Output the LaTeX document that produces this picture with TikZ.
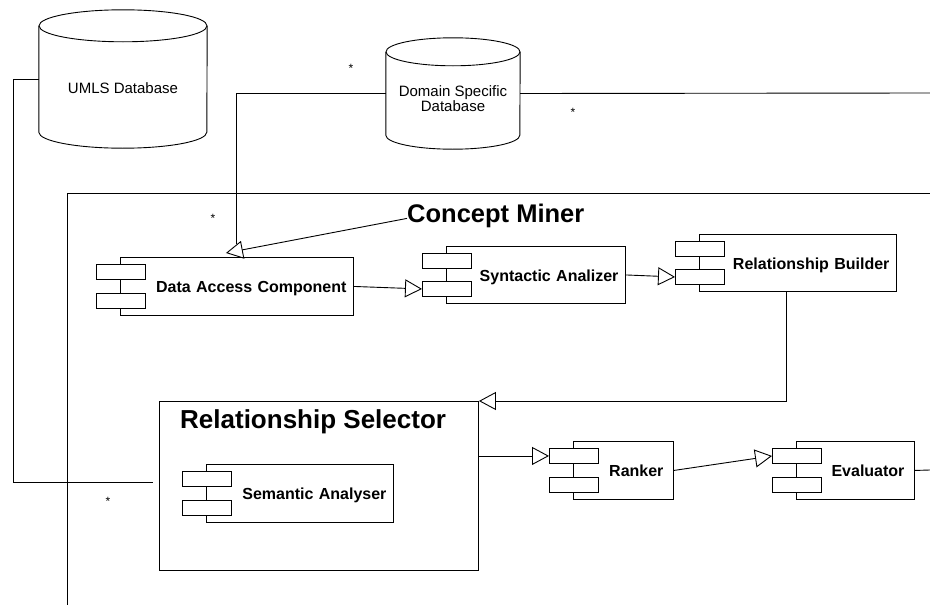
\documentclass[tikz,border=0pt]{standalone}
\usepackage{fontspec}
\setmainfont{Liberation Sans}
\usetikzlibrary{arrows.meta}
\tikzset{
  conn/.style={line width=0.9pt},
  gen/.style={conn, -{Triangle[open, length=17pt, width=18pt]}},
  comp/.style={draw, fill=white, line width=0.9pt, font=\bfseries\fontsize{16}{18}\selectfont,
    align=right, inner xsep=7pt, inner ysep=0pt, text height=15pt, text depth=2pt,
    minimum height=57pt, anchor=north west},
  icon/.style={draw, fill=white, line width=0.9pt, minimum width=49pt, minimum height=15pt,
    inner sep=0pt, anchor=north west, text height=0pt, text depth=0pt},
  dbbody/.style={inner sep=0pt},
  dbtext/.style={font=\fontsize{15}{15}\selectfont, inner sep=0pt, align=center},
  star/.style={font=\fontsize{12}{12}\selectfont, inner sep=0pt},
  title/.style={font=\bfseries\fontsize{25.5}{30}\selectfont, inner sep=0pt},
}
\newcommand\compicons[1]{%
  \node[icon] (#1-a) at ([xshift=-24pt,yshift=-7pt]#1.north west) {};
  \node[icon, anchor=south west] (#1-b) at ([xshift=-24pt,yshift=7pt]#1.south west) {};}
\begin{document}
\begin{tikzpicture}[x=1pt, y=-1pt]
\useasboundingbox[fill=white] (0,0) rectangle (930,605);

% outer Concept Miner frame (clipped at picture edge)
\coordinate (cmbl) at (67,605);
\coordinate (cmtl) at (67,193);
\coordinate (cmtr) at (930,193);
\draw[conn] (cmbl) -- (cmtl) -- (cmtr);

% UMLS database
\node[dbbody, minimum width=168pt, minimum height=106pt] (umls) at (123,79) {};
\draw[conn] (umls.north west) -- (umls.south west)
  arc[start angle=180, end angle=360, x radius=84pt, y radius=16pt] -- (umls.north east);
\draw[conn] (umls.north) ellipse [x radius=84pt, y radius=16pt];
\node[dbtext] (umls-t) at (123,88) {UMLS Database};

% Domain specific database
\node[dbbody, minimum width=134pt, minimum height=83pt] (dsd) at (453,93.5) {};
\draw[conn] (dsd.north west) -- (dsd.south west)
  arc[start angle=180, end angle=360, x radius=67pt, y radius=14pt] -- (dsd.north east);
\draw[conn] (dsd.north) ellipse [x radius=67pt, y radius=14pt];
\node[dbtext] (dsd-t) at (453,99) {Domain Specific\\Database};

% titles
\node[title, anchor=base west] (cm) at (407,222) {Concept Miner};

% components
\node[comp, text width=219pt, minimum height=58pt] (dac) at (120,257) {Data Access Component};
\compicons{dac}
\node[comp, text width=165pt] (sa) at (446,246) {Syntactic Analizer};
\compicons{sa}
\node[comp, text width=183pt] (rb) at (699,234) {Relationship Builder};
\compicons{rb}

% relationship selector
\node[draw, line width=0.9pt, inner sep=0pt, minimum width=319pt, minimum height=169pt,
  anchor=north west] (rs) at (159,401) {};
\node[title, anchor=west, font=\bfseries\fontsize{26}{30}\selectfont] (rs-t) at (180,422) {Relationship Selector};
\node[comp, text width=173pt, minimum height=58pt] (sem) at (206,464) {Semantic Analyser};
\compicons{sem}

\node[comp, text width=80pt, inner xsep=10pt, minimum height=58pt] (rk) at (573,441) {Ranker};
\compicons{rk}
\node[comp, text width=98pt, inner xsep=10pt, minimum height=58pt] (ev) at (796,441) {Evaluator};
\compicons{ev}

% connectors
\coordinate (uend) at (153,482);
\draw[conn] (umls.west) -| (13,482) -- (uend);

\coordinate (dsdown) at (236,244);
\draw[conn] (dsd.west) -| (dsdown);
\coordinate (dsright) at (930,93);
\draw[conn] (dsd.east) -- (dsright);

\draw[gen] ([yshift=-3pt]cm.west) -- ([xshift=-11pt,yshift=4pt]dac.north);
\draw[gen] (dac.east) -- (sa-b.west);
\draw[gen] (sa.east) -- (rb-b.west);
\draw[gen] ([xshift=-11.5pt]rb.south) |- (rs.north east);
\draw[gen] (rk-a.west -| rs.east) -- (rk-a.west);
\draw[gen] (rk.east) -- (ev-a.west);
\coordinate (evright) at (930,470);
\draw[conn] (ev.east) -- (evright);

% multiplicities
\node[star] (s1) at (351,68) {*};
\node[star] (s2) at (573,112) {*};
\node[star] (s3) at (213,218) {*};
\node[star] (s4) at (108,501) {*};
\end{tikzpicture}
\end{document}
